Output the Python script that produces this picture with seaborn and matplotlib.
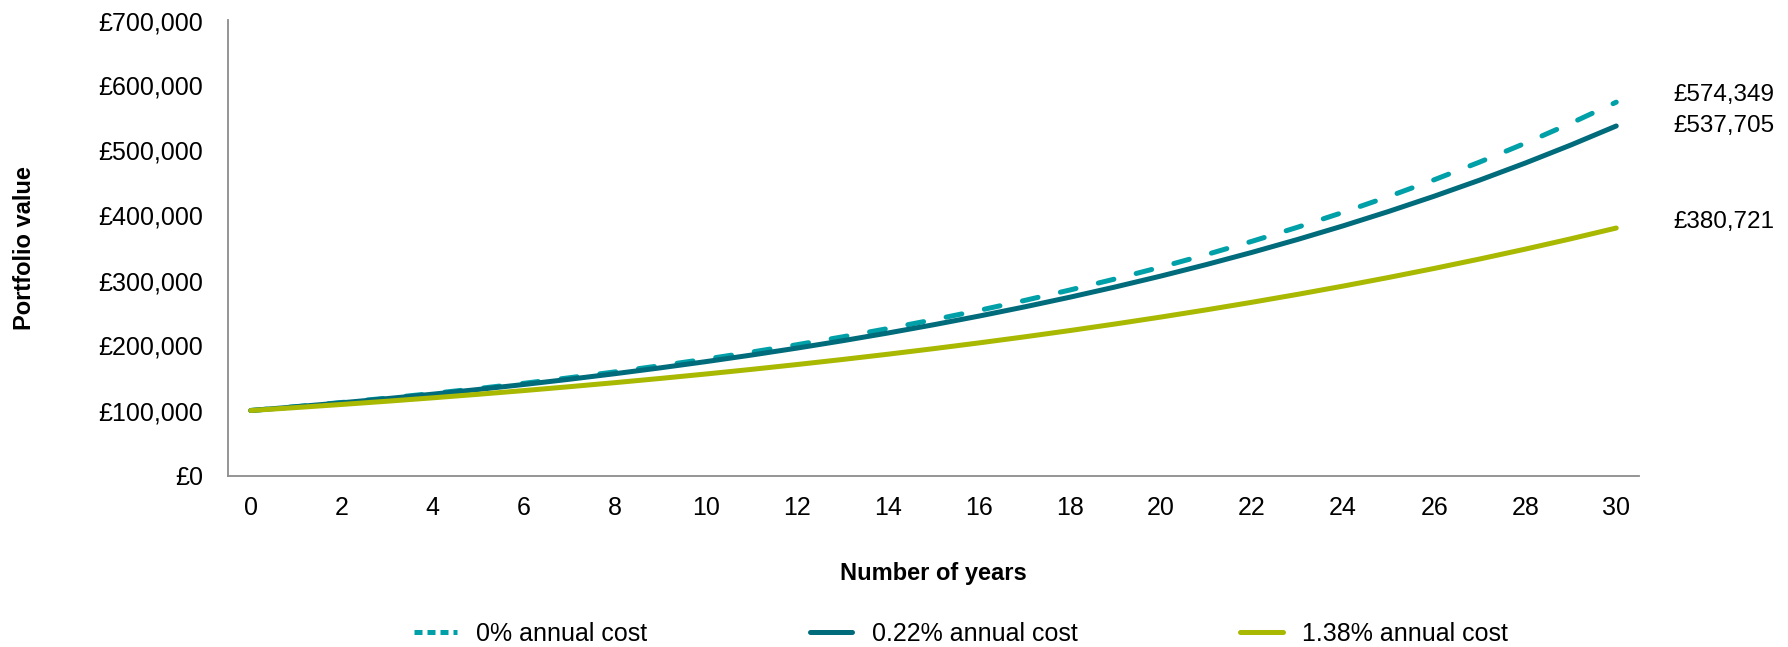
import pandas as pd
import matplotlib.pyplot as plt
import seaborn as sns
from matplotlib.lines import Line2D

## DATOS ##

years = list(range(0, 31))

cost_0 = [100000, 106000, 112360, 119102, 126248, 133823, 141852, 150363, 159385, 168948,
          179085, 189830, 201220, 213293, 226090, 239656, 254035, 269277, 285434, 302560,
          320714, 339956, 360354, 381975, 404893, 429187, 454938, 482235, 511169, 541839,
          574349]
cost_022 = [100000, 105767, 111867, 118319, 125142, 132360, 139993, 148067, 156607, 165639,
            175191, 185296, 195982, 207285, 219239, 231884, 245256, 259402, 274362, 290185,
            306920, 324622, 343344, 363146, 384089, 406240, 429669, 454455, 480659, 508380,
            537705]
cost_138 = [100000, 104557, 109322, 114304, 119513, 124959, 130654, 136607, 142833, 149342,
            156148, 163263, 170703, 178483, 186616, 195121, 204012, 213309, 223030, 233194,
            243821, 254932, 266550, 278696, 291397, 304676, 318561, 333078, 348256, 364127,
            380721]

series_labels = ["0% annual cost", "0.22% annual cost", "1.38% annual cost"]
end_labels = ["£574,349", "£537,705", "£380,721"]
colors = ["#00a0a8", "#006b7b", "#a9b800"]

y_ticks = [0, 100000, 200000, 300000, 400000, 500000, 600000, 700000]
x_ticks = list(range(0, 31, 2))

df = pd.DataFrame({"year": years, series_labels[0]: cost_0,
                   series_labels[1]: cost_022, series_labels[2]: cost_138})
df_long = df.melt(id_vars="year", var_name="serie", value_name="valor")

## GRÁFICO ##

sns.set_theme(style="white")
plt.rcParams['font.family'] = ['Liberation Sans', 'DejaVu Sans']
plt.rcParams['text.color'] = 'black'
plt.rcParams['axes.labelcolor'] = 'black'

fig = plt.figure(figsize=(17.88, 6.47), dpi=100)
ax = fig.add_axes([228 / 1788, 1 - 475.5 / 647, (1639 - 228) / 1788, (475.5 - 20.5) / 647])

for lab, col in zip(series_labels, colors):
    sub = df_long[df_long["serie"] == lab]
    sns.lineplot(data=sub, x="year", y="valor", ax=ax, color=col, linewidth=3.6,
                 solid_capstyle="round", legend=False)
    line = ax.lines[-1]
    if lab == series_labels[0]:
        line.set_dashes((3.2, 4.6))
        line.set_dash_capstyle("round")

# etiquetas finales
offsets = [(41, 5), (41, 0), (41, 4)]
for vals, txt, off in zip([cost_0, cost_022, cost_138], end_labels, offsets):
    ax.annotate(txt, xy=(years[-1], vals[-1]), xytext=off, textcoords="offset points",
                fontsize=17.5, color="black", va="center", ha="left", annotation_clip=False)

ax.set_xlim(-0.5, 30.5)
ax.set_ylim(0, 700000)
ax.set_xticks(x_ticks)
ax.set_yticks(y_ticks)
ax.set_yticklabels([f"£{v:,.0f}" for v in y_ticks])
ax.tick_params(axis="both", labelsize=18, colors="black", length=0)
ax.tick_params(axis="y", pad=18)
ax.tick_params(axis="x", pad=15)

for s in ["top", "right"]:
    ax.spines[s].set_visible(False)
for s in ["left", "bottom"]:
    ax.spines[s].set_color("#8c8c8c")
    ax.spines[s].set_linewidth(1.3)

ax.set_xlabel("Number of years", fontsize=17, fontweight="bold", labelpad=30)
ax.set_ylabel("Portfolio value", fontsize=17, fontweight="bold", labelpad=45)

leg_handles = [Line2D([0], [0], color=colors[0], lw=3.6, dashes=(1.6, 1.0)),
               Line2D([0], [0], color=colors[1], lw=3.6),
               Line2D([0], [0], color=colors[2], lw=3.6)]
fig.legend(leg_handles, series_labels, loc="center", bbox_to_anchor=(0.5375, 1 - 634 / 647),
           ncol=3, frameon=False, fontsize=18, handlelength=1.7, handletextpad=0.78,
           columnspacing=6.5, labelcolor="black")

fig.savefig("out.png", dpi=100)
